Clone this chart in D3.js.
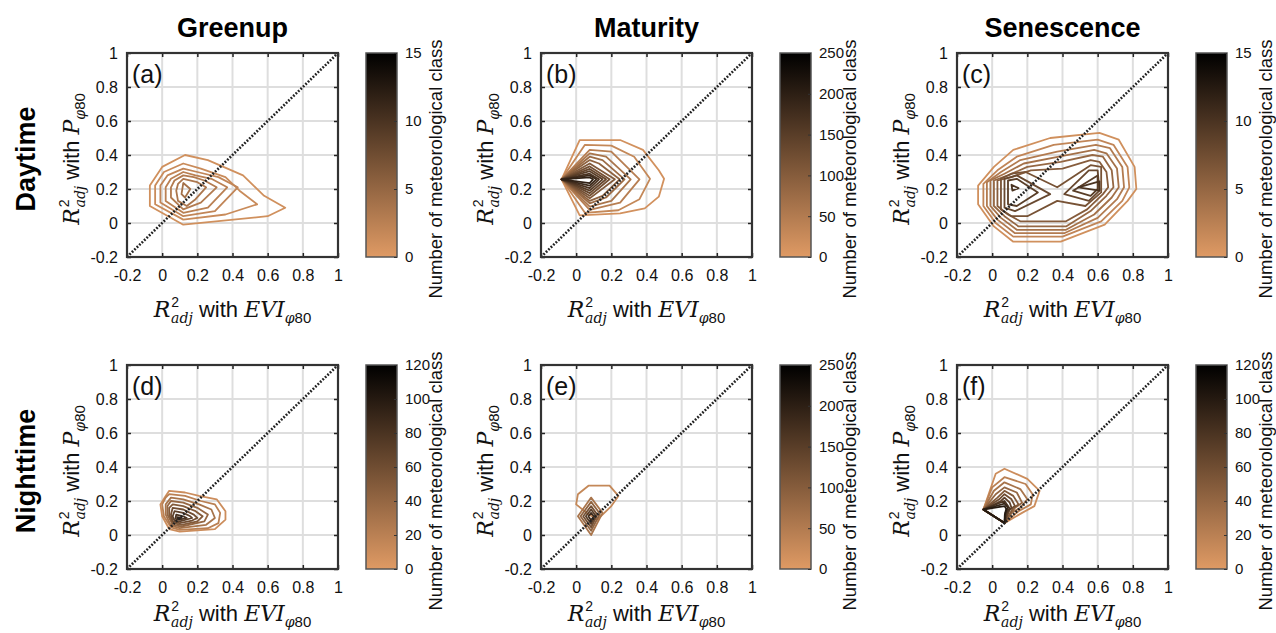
<!DOCTYPE html>
<html>
<head>
<meta charset="utf-8">
<script src="https://cdn.jsdelivr.net/npm/d3@7"></script>
<style>
  body { margin: 0; background: #fff; }
  svg { display: block; }
</style>
</head>
<body>
<div id="chart"></div>
<script>
// ---- data ----
const columnTitles = ["Greenup", "Maturity", "Senescence"];
const rowTitles = ["Daytime", "Nighttime"];
const panelLetters = ["(a)", "(b)", "(c)", "(d)", "(e)", "(f)"];
const axisTicks = [-0.2, 0, 0.2, 0.4, 0.6, 0.8, 1];
const colorMax = [15, 250, 15, 120, 250, 120];
const colorTicks = [
  [0, 5, 10, 15],
  [0, 50, 100, 150, 200, 250],
  [0, 5, 10, 15],
  [0, 20, 40, 60, 80, 100, 120],
  [0, 50, 100, 150, 200, 250],
  [0, 20, 40, 60, 80, 100, 120]
];

// contour rings per panel: level + vertices [EVI R2, P R2]
const contoursA = [
  { level: 1, pts: [[0.13,0.40],[0.0,0.33],[-0.07,0.22],[-0.07,0.10],[0.12,-0.01],[0.60,0.04],[0.70,0.09],[0.58,0.16],[0.46,0.28],[0.26,0.37]] },
  { level: 1.5, pts: [[0.12,0.35],[0.01,0.30],[-0.04,0.22],[-0.04,0.11],[0.12,0.02],[0.36,0.05],[0.54,0.11],[0.44,0.19],[0.36,0.27],[0.22,0.32]] },
  { level: 2, pts: [[0.12,0.32],[0.03,0.28],[-0.01,0.22],[-0.01,0.12],[0.12,0.04],[0.30,0.07],[0.43,0.21],[0.32,0.27],[0.20,0.30]] },
  { level: 2.5, pts: [[0.12,0.30],[0.05,0.26],[0.02,0.21],[0.02,0.13],[0.12,0.06],[0.26,0.09],[0.37,0.21],[0.28,0.26],[0.19,0.28]] },
  { level: 3, pts: [[0.12,0.28],[0.07,0.25],[0.05,0.21],[0.05,0.15],[0.12,0.08],[0.22,0.12],[0.31,0.21],[0.24,0.25],[0.18,0.27]] },
  { level: 3.5, pts: [[0.12,0.26],[0.09,0.23],[0.08,0.19],[0.09,0.13],[0.14,0.10],[0.19,0.14],[0.25,0.21],[0.20,0.24]] },
  { level: 4, pts: [[0.12,0.235],[0.11,0.17],[0.13,0.15],[0.16,0.20]] }
];
const contoursB = [
  { level: 15, pts: [[-0.083,0.257],[0.02,0.488],[0.25,0.488],[0.38,0.43],[0.47,0.31],[0.50,0.26],[0.47,0.155],[0.39,0.086],[0.25,0.057],[0.02,0.045]] },
  { level: 30, pts: [[-0.083,0.257],[0.05,0.46],[0.20,0.455],[0.33,0.39],[0.42,0.26],[0.36,0.14],[0.24,0.075],[0.05,0.06]] },
  { level: 45, pts: [[-0.083,0.257],[0.077,0.43],[0.20,0.42],[0.36,0.257],[0.25,0.12],[0.077,0.077]] },
  { level: 60, pts: [[-0.083,0.257],[0.077,0.41],[0.17,0.39],[0.31,0.257],[0.20,0.13],[0.077,0.096]] },
  { level: 75, pts: [[-0.083,0.257],[0.077,0.39],[0.15,0.37],[0.275,0.257],[0.17,0.15],[0.077,0.116]] },
  { level: 90, pts: [[-0.083,0.257],[0.077,0.37],[0.13,0.35],[0.247,0.257],[0.15,0.16],[0.077,0.13]] },
  { level: 105, pts: [[-0.083,0.257],[0.077,0.35],[0.22,0.257],[0.077,0.145]] },
  { level: 120, pts: [[-0.083,0.257],[0.077,0.333],[0.19,0.257],[0.077,0.16]] },
  { level: 135, pts: [[-0.083,0.257],[0.077,0.318],[0.17,0.257],[0.077,0.176]] },
  { level: 150, pts: [[-0.083,0.257],[0.077,0.305],[0.15,0.257],[0.077,0.19]] },
  { level: 165, pts: [[-0.083,0.257],[0.077,0.29],[0.13,0.257],[0.077,0.205]] },
  { level: 180, pts: [[-0.083,0.257],[0.077,0.28],[0.115,0.257],[0.077,0.22]] },
  { level: 195, pts: [[-0.083,0.257],[0.077,0.268],[0.096,0.257],[0.077,0.235]] }
];
const contoursC = [
  { level: 1, pts: [[-0.08,0.22],[-0.08,0.11],[0.01,-0.02],[0.12,-0.11],[0.39,-0.11],[0.64,-0.01],[0.77,0.13],[0.82,0.20],[0.81,0.33],[0.72,0.49],[0.61,0.53],[0.33,0.50],[0.12,0.43],[0.01,0.33]] },
  { level: 2, pts: [[-0.05,0.23],[-0.05,0.10],[0.02,0.00],[0.12,-0.08],[0.40,-0.08],[0.62,0.01],[0.74,0.13],[0.78,0.21],[0.77,0.33],[0.69,0.46],[0.60,0.49],[0.35,0.46],[0.14,0.39],[0.03,0.31]] },
  { level: 3, pts: [[-0.03,0.24],[-0.03,0.10],[0.03,0.02],[0.13,-0.06],[0.41,-0.06],[0.60,0.03],[0.71,0.14],[0.75,0.21],[0.74,0.33],[0.67,0.44],[0.59,0.46],[0.37,0.42],[0.16,0.37],[0.05,0.30]] },
  { level: 4, pts: [[-0.01,0.25],[-0.01,0.10],[0.05,0.03],[0.14,-0.04],[0.42,-0.04],[0.58,0.05],[0.68,0.15],[0.72,0.21],[0.71,0.32],[0.65,0.41],[0.58,0.43],[0.38,0.39],[0.18,0.35],[0.07,0.29]] },
  { level: 5, pts: [[0.01,0.25],[0.01,0.10],[0.07,0.04],[0.15,-0.02],[0.42,-0.02],[0.56,0.07],[0.65,0.16],[0.69,0.21],[0.68,0.31],[0.63,0.39],[0.57,0.40],[0.39,0.36],[0.20,0.33],[0.09,0.28]] },
  { level: 6, pts: [[0.03,0.25],[0.03,0.10],[0.09,0.05],[0.16,0.01],[0.42,0.01],[0.54,0.08],[0.63,0.17],[0.66,0.21],[0.65,0.30],[0.61,0.36],[0.56,0.37],[0.40,0.32],[0.22,0.31],[0.11,0.27]] },
  { level: 7, pts: [[0.05,0.26],[0.05,0.08],[0.11,0.04],[0.20,0.04],[0.37,0.13],[0.53,0.10],[0.62,0.18],[0.62,0.33],[0.56,0.34],[0.37,0.21],[0.19,0.30],[0.11,0.29]] },
  { level: 8, pts: [[0.07,0.26],[0.07,0.09],[0.13,0.07],[0.33,0.17],[0.14,0.28]] },
  { level: 8, pts: [[0.41,0.17],[0.55,0.13],[0.61,0.19],[0.60,0.31],[0.55,0.31]] },
  { level: 9, pts: [[0.09,0.25],[0.09,0.11],[0.14,0.10],[0.26,0.18],[0.14,0.26]] },
  { level: 9, pts: [[0.46,0.19],[0.56,0.16],[0.60,0.20],[0.60,0.28]] },
  { level: 10, pts: [[0.11,0.225],[0.115,0.19],[0.15,0.205]] },
  { level: 10, pts: [[0.49,0.21],[0.61,0.245],[0.61,0.19]] }
];
const contoursD = [
  { level: 10, pts: [[0.04,0.26],[0.13,0.25],[0.21,0.23],[0.31,0.21],[0.36,0.14],[0.36,0.09],[0.30,0.035],[0.10,0.02],[0.04,0.035],[0.0,0.11],[-0.01,0.18],[0.02,0.23]] },
  { level: 20, pts: [[0.04,0.24],[0.13,0.23],[0.22,0.20],[0.30,0.18],[0.33,0.13],[0.32,0.07],[0.26,0.04],[0.10,0.03],[0.05,0.045],[0.01,0.11],[0.0,0.18],[0.02,0.22]] },
  { level: 30, pts: [[0.05,0.22],[0.12,0.21],[0.21,0.18],[0.28,0.15],[0.30,0.10],[0.25,0.06],[0.10,0.04],[0.05,0.055],[0.02,0.12],[0.02,0.18]] },
  { level: 40, pts: [[0.05,0.20],[0.12,0.19],[0.20,0.16],[0.26,0.12],[0.24,0.08],[0.11,0.05],[0.06,0.06],[0.03,0.12],[0.03,0.17]] },
  { level: 50, pts: [[0.06,0.18],[0.12,0.17],[0.19,0.14],[0.23,0.11],[0.20,0.08],[0.11,0.06],[0.06,0.07],[0.04,0.12],[0.04,0.16]] },
  { level: 60, pts: [[0.06,0.16],[0.12,0.15],[0.18,0.12],[0.20,0.10],[0.17,0.085],[0.10,0.07],[0.06,0.08],[0.05,0.12]] },
  { level: 70, pts: [[0.07,0.14],[0.12,0.13],[0.16,0.11],[0.17,0.10],[0.10,0.08],[0.07,0.085],[0.06,0.11]] },
  { level: 80, pts: [[0.08,0.12],[0.12,0.11],[0.14,0.10],[0.10,0.09],[0.075,0.095]] },
  { level: 90, pts: [[0.085,0.105],[0.11,0.10],[0.09,0.095]] }
];
const contoursE = [
  { level: 30, pts: [[0.07,0.29],[0.19,0.29],[0.24,0.23],[0.20,0.17],[0.15,0.12],[0.12,0.09],[0.06,0.13],[0.0,0.18],[0.01,0.24]] },
  { level: 60, pts: [[0.085,0.22],[0.15,0.13],[0.085,0.0],[0.01,0.11]] },
  { level: 90, pts: [[0.085,0.195],[0.135,0.125],[0.085,0.025],[0.025,0.11]] },
  { level: 120, pts: [[0.085,0.17],[0.12,0.12],[0.085,0.045],[0.04,0.11]] },
  { level: 150, pts: [[0.085,0.15],[0.11,0.115],[0.085,0.065],[0.055,0.11]] },
  { level: 180, pts: [[0.085,0.13],[0.10,0.11],[0.085,0.085],[0.07,0.11]] }
];
const contoursF = [
  { level: 10, pts: [[-0.05,0.15],[-0.03,0.21],[0.02,0.36],[0.07,0.39],[0.20,0.33],[0.27,0.26],[0.24,0.17],[0.17,0.13],[0.12,0.10],[0.07,0.07]] },
  { level: 20, pts: [[-0.05,0.15],[0.0,0.28],[0.07,0.34],[0.19,0.30],[0.23,0.24],[0.22,0.18],[0.15,0.14],[0.07,0.07]] },
  { level: 30, pts: [[-0.05,0.15],[0.01,0.26],[0.07,0.31],[0.16,0.27],[0.20,0.21],[0.16,0.16],[0.11,0.13],[0.07,0.07]] },
  { level: 40, pts: [[-0.05,0.15],[0.02,0.24],[0.07,0.28],[0.14,0.25],[0.17,0.19],[0.13,0.16],[0.07,0.07]] },
  { level: 50, pts: [[-0.05,0.15],[0.03,0.22],[0.07,0.26],[0.12,0.23],[0.15,0.18],[0.12,0.16],[0.07,0.07]] },
  { level: 60, pts: [[-0.05,0.15],[0.04,0.21],[0.07,0.24],[0.11,0.21],[0.13,0.17],[0.10,0.15],[0.07,0.07]] },
  { level: 70, pts: [[-0.05,0.15],[0.05,0.20],[0.07,0.22],[0.10,0.19],[0.11,0.16],[0.09,0.14],[0.07,0.07]] },
  { level: 80, pts: [[-0.05,0.15],[0.07,0.20],[0.09,0.17],[0.10,0.155],[0.08,0.13],[0.07,0.07]] },
  { level: 90, pts: [[-0.05,0.15],[0.07,0.185],[0.09,0.16],[0.075,0.13],[0.07,0.07]] },
  { level: 100, pts: [[-0.05,0.15],[0.07,0.17],[0.08,0.155],[0.072,0.12],[0.07,0.07]] }
];
const panelContours = [contoursA, contoursB, contoursC, contoursD, contoursE, contoursF];

// ---- layout ----
const width = 1276, height = 633;
const panelX = [127, 541, 957];
const panelY = [53, 365];
const pw = 211, ph = 204;
const cbOffset = 239, cbW = 31;
const sans = "'Liberation Sans', Arial, Helvetica, sans-serif";
const mathFont = "'DejaVu Serif', serif";
const lowColor = "#df9a64";

const svg = d3.select("#chart").append("svg")
  .attr("width", width)
  .attr("height", height)
  .style("background-color", "#fff");

const defs = svg.append("defs");

// column titles
columnTitles.forEach((t, c) => {
  svg.append("text")
    .attr("x", panelX[c] + pw / 2)
    .attr("y", 37)
    .attr("text-anchor", "middle")
    .attr("font-family", sans)
    .attr("font-weight", "bold")
    .attr("font-size", "27px")
    .attr("fill", "#000")
    .text(t);
});

// row titles
rowTitles.forEach((t, r) => {
  svg.append("text")
    .attr("transform", `translate(35,${panelY[r] + ph / 2 + 4}) rotate(-90)`)
    .attr("text-anchor", "middle")
    .attr("font-family", sans)
    .attr("font-weight", "bold")
    .attr("font-size", "27px")
    .attr("fill", "#000")
    .text(t);
});

// R^2_adj with X_phi80
function mathLabel(text, symbol) {
  text.attr("font-family", sans).attr("font-size", "22px").attr("fill", "#111");
  text.append("tspan").attr("font-family", mathFont).attr("font-style", "italic").text("R");
  text.append("tspan").attr("font-size", "14px").attr("dy", -10).attr("dx", 1).text("2");
  text.append("tspan").attr("font-family", mathFont).attr("font-style", "italic")
    .attr("font-size", "14px").attr("dx", -8).attr("dy", 16).text("adj");
  text.append("tspan").attr("dy", -6).text(" with ");
  text.append("tspan").attr("font-family", mathFont).attr("font-style", "italic").text(symbol);
  text.append("tspan").attr("font-family", mathFont).attr("font-style", "italic")
    .attr("font-size", "14px").attr("dy", 6).text("φ");
  text.append("tspan").attr("font-size", "15px").text("80");
}

panelContours.forEach((contours, i) => {
  const r = Math.floor(i / 3), c = i % 3;
  const g = svg.append("g").attr("transform", `translate(${panelX[c]},${panelY[r]})`);

  const x = d3.scaleLinear().domain([-0.2, 1]).range([0, pw]);
  const y = d3.scaleLinear().domain([-0.2, 1]).range([ph, 0]);
  const color = d3.scaleLinear().domain([0, colorMax[i]]).range([lowColor, "#000"]);

  g.append("rect").attr("width", pw).attr("height", ph).attr("fill", "#fff");

  // grid
  const inner = axisTicks.slice(1, -1);
  g.selectAll(".gx").data(inner).enter().append("line")
    .attr("x1", d => x(d)).attr("x2", d => x(d))
    .attr("y1", 0).attr("y2", ph)
    .attr("stroke", "#dedede").attr("stroke-width", 2);
  g.selectAll(".gy").data(inner).enter().append("line")
    .attr("x1", 0).attr("x2", pw)
    .attr("y1", d => y(d)).attr("y2", d => y(d))
    .attr("stroke", "#dedede").attr("stroke-width", 2);

  // contours
  const line = d3.line().x(d => x(d[0])).y(d => y(d[1])).curve(d3.curveLinearClosed);
  g.selectAll(".contour").data(contours).enter().append("path")
    .attr("d", d => line(d.pts))
    .attr("fill", "none")
    .attr("stroke", d => color(d.level))
    .attr("stroke-width", 1.8)
    .attr("stroke-linejoin", "round");

  // 1:1 line
  g.append("line")
    .attr("x1", x(-0.2)).attr("y1", y(-0.2))
    .attr("x2", x(1)).attr("y2", y(1))
    .attr("stroke", "#222")
    .attr("stroke-width", 2.6)
    .attr("stroke-dasharray", "1.8,1.6");

  // axes
  const fmt = d => String(d);
  const styleAxis = sel => {
    sel.select(".domain").remove();
    sel.selectAll(".tick line").attr("stroke", "#222").attr("stroke-width", 1.5);
    sel.selectAll(".tick text").attr("font-family", sans).attr("font-size", "16px").attr("fill", "#111");
  };
  g.append("g").attr("transform", `translate(0,${ph})`)
    .call(d3.axisBottom(x).tickValues(axisTicks).tickSize(-4).tickPadding(13).tickFormat(fmt))
    .call(styleAxis);
  g.append("g")
    .call(d3.axisLeft(y).tickValues(axisTicks).tickSize(-4).tickPadding(9).tickFormat(fmt))
    .call(styleAxis);
  g.append("g")
    .call(d3.axisTop(x).tickValues(axisTicks).tickSize(-4).tickFormat(""))
    .call(styleAxis);
  g.append("g").attr("transform", `translate(${pw},0)`)
    .call(d3.axisRight(y).tickValues(axisTicks).tickSize(-4).tickFormat(""))
    .call(styleAxis);

  // frame
  g.append("rect").attr("width", pw).attr("height", ph)
    .attr("fill", "none").attr("stroke", "#333").attr("stroke-width", 2.2);

  // panel letter
  g.append("text")
    .attr("x", 5).attr("y", 30)
    .attr("font-family", sans).attr("font-size", "25px").attr("fill", "#111")
    .text(panelLetters[i]);

  // axis labels
  g.append("text")
    .attr("x", pw / 2).attr("y", ph + (r === 0 ? 60 : 52))
    .attr("text-anchor", "middle")
    .call(mathLabel, "EVI");
  g.append("text")
    .attr("transform", `translate(-48,${ph / 2 + 4}) rotate(-90)`)
    .attr("text-anchor", "middle")
    .call(mathLabel, "P");

  // colorbar
  const gradId = "grad" + i;
  const grad = defs.append("linearGradient").attr("id", gradId)
    .attr("x1", 0).attr("y1", 1).attr("x2", 0).attr("y2", 0);
  grad.append("stop").attr("offset", "0%").attr("stop-color", color(0));
  grad.append("stop").attr("offset", "100%").attr("stop-color", color(colorMax[i]));

  const cb = g.append("g").attr("transform", `translate(${cbOffset},0)`);
  cb.append("rect").attr("width", cbW).attr("height", ph)
    .attr("fill", `url(#${gradId})`)
    .attr("stroke", "#555").attr("stroke-width", 1.5);
  const cy = d3.scaleLinear().domain([0, colorMax[i]]).range([ph, 0]);
  cb.append("g").attr("transform", `translate(${cbW},0)`)
    .call(d3.axisRight(cy).tickValues(colorTicks[i]).tickSize(-3).tickPadding(8))
    .call(sel => {
      sel.select(".domain").remove();
      sel.selectAll(".tick line").attr("stroke", "#333");
      sel.selectAll(".tick text").attr("font-family", sans).attr("font-size", "15px").attr("fill", "#111");
    });
  cb.append("text")
    .attr("transform", `translate(${cbW + 45},${ph / 2 + 14}) rotate(-90)`)
    .attr("text-anchor", "middle")
    .attr("font-family", sans)
    .attr("font-size", "18.5px")
    .attr("fill", "#111")
    .text("Number of meteorological class");
});
</script>
</body>
</html>
